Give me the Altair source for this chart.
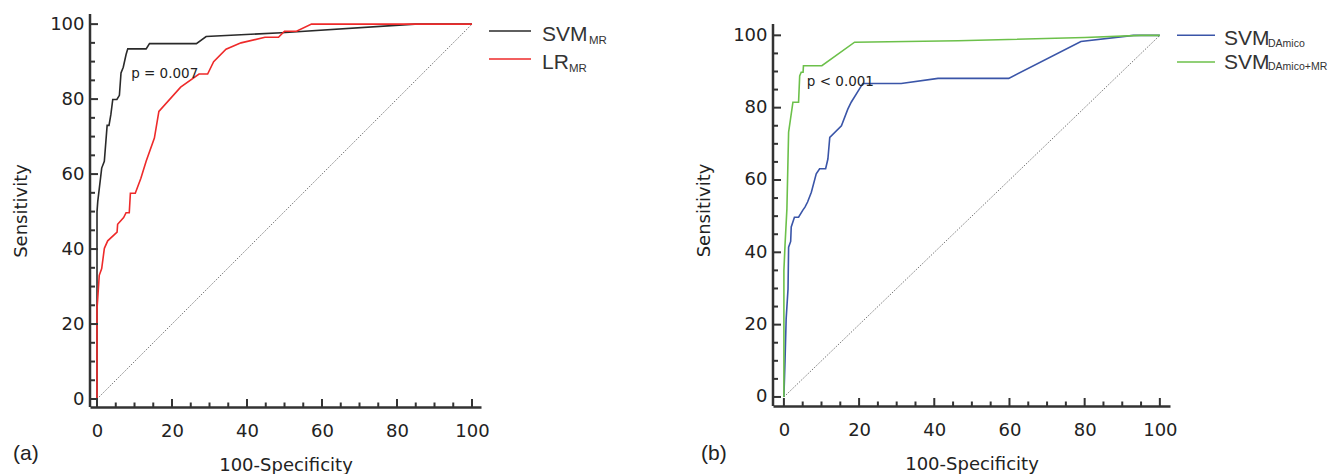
import altair as alt
import pandas as pd

FONT = "Liberation Sans"
AXFONT = "DejaVu Sans"

# ---- data ----
svm_mr_x = [0, 0, 0.2, 1.25, 1.95, 2.7, 3.2, 3.7, 4.2, 5.3, 5.97, 6.4, 7.0, 7.75, 8.2, 13.1, 14.0, 26.5, 29.1, 49.2, 84.8, 100]
svm_mr_y = [0, 50, 52.7, 61.6, 63.4, 73, 73, 75.9, 79.9, 79.9, 81, 87, 88.5, 91.9, 93.4, 93.4, 94.8, 94.8, 96.7, 97.7, 100, 100]

lr_mr_x = [0, 0, 0.6, 1.25, 1.96, 2.85, 5.35, 5.5, 7.1, 7.75, 8.6, 8.9, 10.2, 11.7, 13.1, 15.3, 16.5, 22.3, 27.2, 29.5, 31.1, 34.4, 38.4, 44.8, 48.4, 50, 53.2, 57.2, 100]
lr_mr_y = [0, 24, 33, 34.8, 40.2, 42.2, 44.5, 46.6, 48.4, 49.7, 49.7, 54.9, 54.9, 58.9, 63.4, 69.6, 76.7, 83.2, 86.7, 86.7, 90, 93.3, 95, 96.5, 96.5, 98.1, 98.1, 100, 100]

svm_da_x = [0, 0.3, 0.6, 1.1, 1.25, 1.8, 1.95, 2.8, 3.9, 5.0, 5.6, 6.3, 7.3, 8.6, 9.5, 11.1, 11.7, 12.2, 15.3, 17.0, 17.9, 21.0, 31.2, 41.0, 59.8, 79.0, 93, 100]
svm_da_y = [0, 10, 21.6, 29.9, 41.4, 43, 47, 49.7, 49.7, 51.6, 52.5, 53.9, 56.6, 61.7, 63.1, 63.1, 65.8, 71.8, 75, 79.6, 81.5, 86.7, 86.7, 88.1, 88.1, 98.3, 100, 100]

svm_damr_x = [0, 0, 0.3, 0.8, 1.25, 2.4, 3.9, 4.2, 4.6, 5.1, 5.2, 10.1, 18.8, 46.3, 80, 95, 100]
svm_damr_y = [0, 35, 42, 52, 73.2, 81.5, 81.5, 88.8, 89.8, 89.8, 91.6, 91.6, 98.1, 98.5, 99.4, 100, 100]

diag_x = [0, 100]
diag_y = [0, 100]

major_ticks = [0, 20, 40, 60, 80, 100]
minor_ticks = [5, 10, 15, 25, 30, 35, 45, 50, 55, 65, 70, 75, 85, 90, 95]

AXIS_COLOR = "#333333"


def make_panel(items, colors, legend, pnote, label, W, H, xdom, ydom, ytop,
               leg_pos, label_pos, sub_size):
    xenc = alt.X("x:Q", scale=alt.Scale(domain=xdom, nice=False, zero=False),
                 axis=alt.Axis(values=major_ticks, title="100-Specificity", ticks=False,
                               grid=False, labelPadding=15, titlePadding=16,
                               labelFlush=False))
    yenc = alt.Y("y:Q", scale=alt.Scale(domain=ydom, nice=False, zero=False),
                 axis=alt.Axis(values=major_ticks, title="Sensitivity", ticks=False,
                               grid=False, labelPadding=6, titlePadding=19,
                               labelFlush=False, domain=False))

    one = pd.DataFrame({"a": [0]})

    yline = alt.Chart(one).mark_rule(color=AXIS_COLOR, strokeWidth=2.5).encode(
        x=alt.value(0), y=alt.value(ytop), y2=alt.value(H))

    diag = alt.Chart(pd.DataFrame({"x": diag_x, "y": diag_y})).mark_line(
        color="#777777", strokeDash=[1.5, 1.5], strokeWidth=1
    ).encode(x=xenc, y=yenc)

    layers = [yline, diag]
    for (name, xs, ys), color in zip(items, colors):
        df = pd.DataFrame({"x": xs, "y": ys, "i": list(range(len(xs)))})
        layers.append(alt.Chart(df).mark_line(strokeWidth=1.6, color=color).encode(
            x=xenc, y=yenc, order="i:Q"))

    xt_major = alt.Chart(pd.DataFrame({"x": major_ticks})).mark_rule(
        color=AXIS_COLOR, strokeWidth=2).encode(x=xenc, y=alt.value(H), y2=alt.value(H - 8))
    xt_minor = alt.Chart(pd.DataFrame({"x": minor_ticks})).mark_rule(
        color=AXIS_COLOR, strokeWidth=2).encode(x=xenc, y=alt.value(H), y2=alt.value(H - 4.5))
    yt_major = alt.Chart(pd.DataFrame({"y": major_ticks})).mark_rule(
        color=AXIS_COLOR, strokeWidth=2).encode(y=yenc, x=alt.value(0), x2=alt.value(8))
    yt_minor = alt.Chart(pd.DataFrame({"y": minor_ticks})).mark_rule(
        color=AXIS_COLOR, strokeWidth=2).encode(y=yenc, x=alt.value(0), x2=alt.value(5))

    ptxt = alt.Chart(pd.DataFrame({"x": [pnote[0]], "y": [pnote[1]], "t": [pnote[2]]})).mark_text(
        align="left", baseline="middle", fontSize=13.5, font=AXFONT, color="#222222"
    ).encode(x=xenc, y=yenc, text="t:N")

    layers += [xt_major, xt_minor, yt_major, yt_minor, ptxt]

    lx0, lx1, tx, rows = leg_pos
    for (main, sub, sub_dx), color, (ly, base_y, sub_y) in zip(legend, colors, rows):
        layers.append(alt.Chart(one).mark_rule(color=color, strokeWidth=1.6).encode(
            x=alt.value(lx0), x2=alt.value(lx1), y=alt.value(ly)))
        layers.append(alt.Chart(one).mark_text(
            align="left", baseline="alphabetic", fontSize=21, font=FONT, color="#333333",
            text=main).encode(x=alt.value(tx), y=alt.value(base_y)))
        layers.append(alt.Chart(one).mark_text(
            align="left", baseline="alphabetic", fontSize=sub_size, font=FONT, color="#333333",
            text=sub).encode(x=alt.value(tx + sub_dx), y=alt.value(sub_y)))

    layers.append(alt.Chart(one).mark_text(
        align="left", baseline="middle", fontSize=21, font=FONT, color="#222222",
        text=label).encode(x=alt.value(label_pos[0]), y=alt.value(label_pos[1])))

    return alt.layer(*layers).properties(width=W, height=H)


left = make_panel(
    [("SVM_MR", svm_mr_x, svm_mr_y), ("LR_MR", lr_mr_x, lr_mr_y)],
    ["#2a2a2a", "#ee2a2a"],
    [("SVM", "MR", 47), ("LR", "MR", 27)],
    (9.1, 86.7, "p = 0.007"),
    "(a)", 391, 393, [-1.87, 102.4], [-2.13, 102.7], 0,
    (399, 441, 452, [(17, 26.5, 30), (45, 54.5, 58)]),
    (-77, 440), 11.5,
)

right = make_panel(
    [("SVM_DAmico", svm_da_x, svm_da_y), ("SVM_DAmico+MR", svm_damr_x, svm_damr_y)],
    ["#3a55a8", "#6cc04a"],
    [("SVM", "DAmico", 44), ("SVM", "DAmico+MR", 44)],
    (6.1, 87.0, "p < 0.001"),
    "(b)", 397, 392, [-2.9, 102.7], [-2.5, 105.9], 10,
    (404, 442, 451, [(21.3, 31.3, 33), (48, 54.7, 56.3)]),
    (-72, 440), 10.5,
)

chart = alt.hconcat(left, right, spacing=88).properties(
    padding={"left": 4, "top": 4, "right": 0, "bottom": 0}
).configure_view(stroke=None).configure_axis(
    domainColor=AXIS_COLOR, domainWidth=2.5,
    labelFontSize=18, titleFontSize=18, labelFont=AXFONT, titleFont=AXFONT,
    labelColor="#222222", titleColor="#222222", titleFontWeight="normal",
)

chart.save("out.html", embed_options={"renderer": "svg", "actions": False})
